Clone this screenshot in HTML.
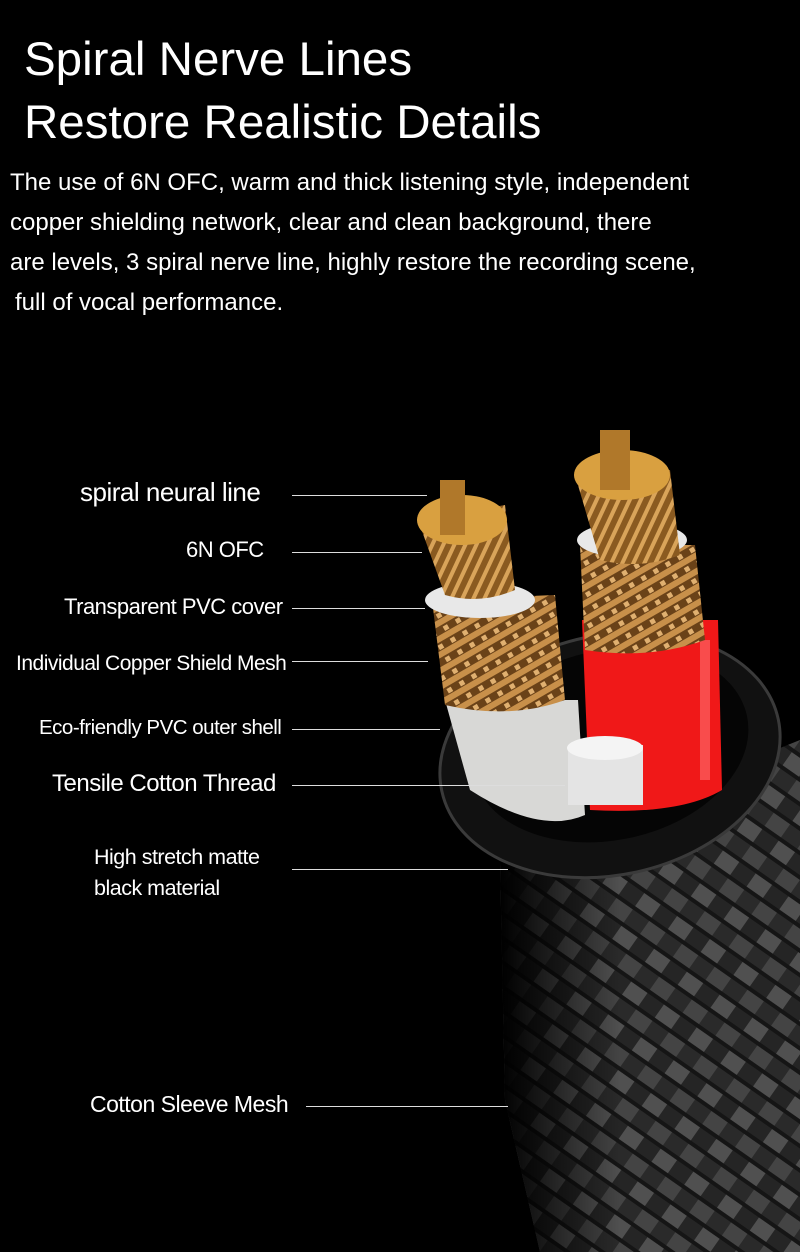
<!DOCTYPE html>
<html><head><style>
body{margin:0;width:800px;height:1252px;background:#000;overflow:hidden;position:relative;font-family:"Liberation Sans",sans-serif;color:#fff}
.t{position:absolute;left:24px;font-size:47.5px;line-height:1;white-space:nowrap}
.p{position:absolute;left:10px;font-size:24px;white-space:nowrap;line-height:1}
.l{position:absolute;font-size:21px;white-space:nowrap;line-height:1;letter-spacing:-0.5px}
.ln{position:absolute;height:1px;background:#ddd}
svg{position:absolute;left:0;top:0}
</style></head><body>
<svg width="800" height="1252">
<defs>
<pattern id="br" width="40" height="40" patternUnits="userSpaceOnUse" patternTransform="rotate(35)">
<rect width="40" height="40" fill="#151515"/>
<rect x="0" y="2" width="20" height="16" fill="#505050"/>
<rect x="20" y="22" width="20" height="16" fill="#444"/>
<rect x="20" y="2" width="20" height="16" fill="#252525"/>
<rect x="0" y="22" width="20" height="16" fill="#2a2a2a"/>
</pattern>
<pattern id="cu" width="10" height="10" patternUnits="userSpaceOnUse" patternTransform="rotate(25)">
<rect width="10" height="10" fill="#8a5a20"/><rect width="4" height="10" fill="#d9a45a"/>
</pattern>
<pattern id="cb" width="14" height="14" patternUnits="userSpaceOnUse" patternTransform="rotate(-30)">
<rect width="14" height="14" fill="#6a4218"/><rect width="14" height="6" fill="#c8904a"/><rect x="0" y="8" width="5" height="5" fill="#e0b070"/>
</pattern>
<linearGradient id="fade" x1="0" x2="1"><stop offset="0" stop-color="#000" stop-opacity="1"/><stop offset="0.4" stop-color="#000" stop-opacity="0"/></linearGradient>
</defs>
<polygon points="500,860 800,740 800,1252 540,1252 505,1100" fill="url(#br)"/>
<polygon points="500,860 800,740 800,1252 540,1252 505,1100" fill="url(#fade)"/>
<ellipse cx="610" cy="755" rx="172" ry="120" transform="rotate(-12 610 755)" fill="#111" stroke="#3a3a3a" stroke-width="3"/>
<ellipse cx="610" cy="745" rx="140" ry="95" transform="rotate(-12 610 745)" fill="#050505"/>
<path d="M445,700 L578,700 L585,815 Q540,835 470,790 Z" fill="#d8d8d6"/>
<path d="M582,620 L718,620 L722,790 Q680,815 590,810 Z" fill="#f01818"/>
<rect x="700" y="640" width="10" height="140" fill="#ff7070" opacity=".6"/>
<path d="M432,600 L555,595 L565,700 Q510,720 445,705 Z" fill="url(#cb)"/>
<path d="M580,545 L695,545 L705,640 Q650,660 585,650 Z" fill="url(#cb)"/>
<ellipse cx="480" cy="600" rx="55" ry="18" fill="#e8e8e8"/>
<ellipse cx="632" cy="540" rx="55" ry="18" fill="#e8e8e8"/>
<path d="M418,520 L505,505 L515,590 Q480,605 445,595 Z" fill="url(#cu)"/>
<ellipse cx="462" cy="520" rx="45" ry="25" fill="#d9a040"/>
<path d="M575,475 L670,470 L680,555 Q640,570 600,560 Z" fill="url(#cu)"/>
<ellipse cx="622" cy="475" rx="48" ry="25" fill="#d9a040"/>
<rect x="440" y="480" width="25" height="55" fill="#b0782a"/>
<rect x="600" y="430" width="30" height="60" fill="#b0782a"/>
<rect x="568" y="745" width="75" height="60" fill="#e4e4e4"/>
<ellipse cx="605" cy="748" rx="38" ry="12" fill="#f4f4f4"/>
</svg>
<div class="t" style="top:36px">Spiral Nerve Lines</div>
<div class="t" style="top:99px">Restore Realistic Details</div>
<div class="p" style="top:171px">The use of 6N OFC, warm and thick listening style, independent</div>
<div class="p" style="top:211px">copper shielding network, clear and clean background, there</div>
<div class="p" style="top:251px">are levels, 3 spiral nerve line, highly restore the recording scene,</div>
<div class="p" style="top:291px;left:15px">full of vocal performance.</div>
<div class="l" style="top:479px;left:80px;font-size:26px">spiral neural line</div><div class="ln" style="top:495px;left:292px;width:135px"></div>
<div class="l" style="top:539px;left:186px;font-size:22px">6N OFC</div><div class="ln" style="top:552px;left:292px;width:130px"></div>
<div class="l" style="top:596px;left:64px;font-size:22px">Transparent PVC cover</div><div class="ln" style="top:608px;left:292px;width:133px"></div>
<div class="l" style="top:653px;left:16px;font-size:21px">Individual Copper Shield Mesh</div><div class="ln" style="top:661px;left:292px;width:136px"></div>
<div class="l" style="top:718px;left:39px;font-size:20.5px">Eco-friendly PVC outer shell</div><div class="ln" style="top:729px;left:292px;width:148px"></div>
<div class="l" style="top:772px;left:52px;font-size:24px">Tensile Cotton Thread</div><div class="ln" style="top:785px;left:292px;width:273px"></div>
<div class="l" style="top:847px;left:94px;font-size:21.5px">High stretch matte</div>
<div class="l" style="top:878px;left:94px;font-size:21.5px">black material</div><div class="ln" style="top:869px;left:292px;width:216px"></div>
<div class="l" style="top:1093px;left:90px;font-size:23px">Cotton Sleeve Mesh</div><div class="ln" style="top:1106px;left:306px;width:202px"></div>
</body></html>
